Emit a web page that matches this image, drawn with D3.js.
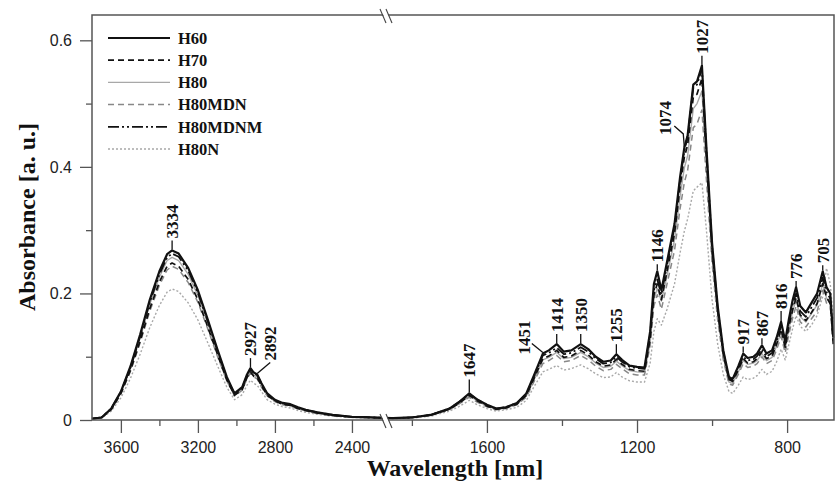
<!DOCTYPE html>
<html>
<head>
<meta charset="utf-8">
<script src="https://cdn.jsdelivr.net/npm/d3@7"></script>
<style>
  html, body { margin: 0; padding: 0; background: #fff; }
  svg { display: block; }
</style>
</head>
<body>
<svg id="chart" width="835" height="486"></svg>
<script>
// Wavenumber grid (cm-1 values labelled "nm" on the axis), high region then low region
const wavenumbers = [
  3750, 3700, 3650, 3600, 3550, 3500, 3450, 3400, 3360, 3334,
  3300, 3250, 3200, 3150, 3100, 3050, 3010, 2970, 2945, 2927,
  2910, 2892, 2870, 2840, 2800, 2760, 2720, 2680, 2640, 2580,
  2500, 2400, 2300, 2195,
  1850, 1800, 1750, 1700, 1675, 1647, 1625, 1600, 1575, 1550,
  1520, 1495, 1475, 1451, 1435, 1414, 1395, 1375, 1350, 1330,
  1310, 1290, 1270, 1255, 1240, 1220, 1200, 1180, 1165, 1155,
  1146, 1135, 1120, 1100, 1085, 1074, 1065, 1050, 1040, 1027,
  1015, 1000, 985, 970, 955, 945, 930, 917, 905, 890,
  880, 867, 855, 840, 828, 816, 805, 795, 785, 776,
  765, 750, 735, 720, 705, 695, 685, 677
];

const seriesNames = ["H60", "H70", "H80", "H80MDN", "H80MDNM", "H80N"];

const h60 = [
  0.002, 0.004, 0.018, 0.045, 0.085, 0.135, 0.190, 0.235, 0.262, 0.268,
  0.263, 0.240, 0.205, 0.160, 0.113, 0.068, 0.042, 0.052, 0.072, 0.082,
  0.075, 0.072, 0.058, 0.042, 0.032, 0.027, 0.025, 0.020, 0.016, 0.012,
  0.008, 0.005, 0.004, 0.003,
  0.003, 0.004, 0.008, 0.018, 0.028, 0.042, 0.032, 0.024, 0.018, 0.020,
  0.027, 0.042, 0.070, 0.105, 0.110, 0.120, 0.108, 0.110, 0.120, 0.112,
  0.100, 0.092, 0.094, 0.104, 0.095, 0.086, 0.084, 0.083, 0.140, 0.215,
  0.235, 0.205, 0.250, 0.310, 0.385, 0.430, 0.450, 0.530, 0.535, 0.560,
  0.430, 0.280, 0.180, 0.110, 0.068, 0.065, 0.085, 0.105, 0.098, 0.100,
  0.105, 0.118, 0.105, 0.110, 0.130, 0.155, 0.125, 0.160, 0.190, 0.210,
  0.180, 0.170, 0.185, 0.200, 0.235, 0.210, 0.200, 0.130
];

const h70 = [
  0.002, 0.004, 0.017, 0.042, 0.079, 0.125, 0.176, 0.218, 0.243, 0.248,
  0.243, 0.222, 0.190, 0.148, 0.105, 0.063, 0.039, 0.048, 0.067, 0.076,
  0.069, 0.067, 0.054, 0.039, 0.030, 0.025, 0.023, 0.018, 0.015, 0.011,
  0.007, 0.005, 0.004, 0.003,
  0.003, 0.004, 0.008, 0.017, 0.026, 0.039, 0.030, 0.022, 0.017, 0.019,
  0.025, 0.039, 0.065, 0.097, 0.101, 0.110, 0.099, 0.101, 0.110, 0.103,
  0.092, 0.085, 0.087, 0.096, 0.088, 0.080, 0.078, 0.077, 0.128, 0.198,
  0.215, 0.190, 0.235, 0.295, 0.370, 0.415, 0.435, 0.510, 0.515, 0.540,
  0.415, 0.268, 0.172, 0.104, 0.064, 0.061, 0.079, 0.097, 0.090, 0.092,
  0.097, 0.108, 0.097, 0.101, 0.120, 0.143, 0.115, 0.148, 0.175, 0.193,
  0.166, 0.157, 0.170, 0.184, 0.216, 0.194, 0.184, 0.120
];

const h80 = [
  0.002, 0.004, 0.017, 0.043, 0.082, 0.130, 0.183, 0.226, 0.252, 0.257,
  0.252, 0.230, 0.197, 0.154, 0.108, 0.065, 0.040, 0.049, 0.068, 0.077,
  0.071, 0.068, 0.055, 0.040, 0.030, 0.025, 0.023, 0.019, 0.015, 0.011,
  0.008, 0.005, 0.004, 0.003,
  0.003, 0.004, 0.008, 0.017, 0.026, 0.038, 0.030, 0.022, 0.017, 0.019,
  0.025, 0.038, 0.063, 0.095, 0.099, 0.107, 0.097, 0.099, 0.107, 0.100,
  0.090, 0.083, 0.085, 0.093, 0.086, 0.078, 0.076, 0.075, 0.122, 0.190,
  0.208, 0.188, 0.228, 0.285, 0.355, 0.398, 0.418, 0.492, 0.500, 0.520,
  0.405, 0.262, 0.168, 0.100, 0.060, 0.058, 0.076, 0.094, 0.088, 0.090,
  0.094, 0.105, 0.094, 0.099, 0.117, 0.140, 0.112, 0.145, 0.172, 0.190,
  0.163, 0.155, 0.168, 0.182, 0.215, 0.193, 0.183, 0.140
];

const h80mdn = [
  0.002, 0.004, 0.016, 0.041, 0.077, 0.122, 0.172, 0.213, 0.237, 0.243,
  0.238, 0.217, 0.186, 0.145, 0.102, 0.062, 0.038, 0.047, 0.065, 0.074,
  0.068, 0.065, 0.052, 0.038, 0.029, 0.024, 0.022, 0.018, 0.014, 0.011,
  0.007, 0.005, 0.004, 0.003,
  0.003, 0.004, 0.007, 0.016, 0.025, 0.036, 0.028, 0.021, 0.016, 0.018,
  0.024, 0.036, 0.060, 0.089, 0.094, 0.102, 0.092, 0.094, 0.102, 0.095,
  0.085, 0.078, 0.080, 0.088, 0.081, 0.073, 0.071, 0.071, 0.118, 0.180,
  0.198, 0.175, 0.215, 0.268, 0.335, 0.375, 0.395, 0.462, 0.468, 0.490,
  0.380, 0.248, 0.158, 0.095, 0.057, 0.055, 0.072, 0.089, 0.083, 0.085,
  0.089, 0.100, 0.089, 0.094, 0.111, 0.132, 0.106, 0.136, 0.162, 0.180,
  0.155, 0.147, 0.160, 0.172, 0.205, 0.185, 0.178, 0.150
];

const h80mdnm = [
  0.002, 0.004, 0.018, 0.044, 0.083, 0.132, 0.186, 0.230, 0.257, 0.263,
  0.258, 0.236, 0.201, 0.157, 0.111, 0.066, 0.041, 0.051, 0.070, 0.080,
  0.074, 0.071, 0.057, 0.041, 0.031, 0.026, 0.024, 0.019, 0.016, 0.012,
  0.008, 0.005, 0.004, 0.003,
  0.003, 0.004, 0.008, 0.018, 0.028, 0.041, 0.032, 0.024, 0.018, 0.020,
  0.027, 0.041, 0.068, 0.102, 0.106, 0.114, 0.104, 0.106, 0.115, 0.108,
  0.097, 0.089, 0.091, 0.100, 0.092, 0.084, 0.082, 0.081, 0.135, 0.205,
  0.222, 0.198, 0.245, 0.305, 0.380, 0.425, 0.448, 0.525, 0.530, 0.555,
  0.425, 0.275, 0.176, 0.108, 0.066, 0.063, 0.083, 0.100, 0.094, 0.096,
  0.101, 0.112, 0.100, 0.106, 0.125, 0.148, 0.120, 0.155, 0.183, 0.200,
  0.172, 0.163, 0.178, 0.193, 0.225, 0.202, 0.192, 0.125
];

const h80n = [
  0.002, 0.003, 0.014, 0.035, 0.066, 0.104, 0.146, 0.181, 0.202, 0.207,
  0.203, 0.185, 0.158, 0.123, 0.087, 0.052, 0.032, 0.040, 0.055, 0.063,
  0.058, 0.055, 0.045, 0.032, 0.025, 0.021, 0.019, 0.015, 0.012, 0.009,
  0.006, 0.004, 0.003, 0.002,
  0.002, 0.003, 0.006, 0.014, 0.021, 0.031, 0.024, 0.018, 0.014, 0.016,
  0.020, 0.031, 0.052, 0.076, 0.080, 0.086, 0.079, 0.081, 0.087, 0.081,
  0.073, 0.067, 0.068, 0.075, 0.068, 0.062, 0.060, 0.060, 0.090, 0.140,
  0.160, 0.150, 0.175, 0.215, 0.265, 0.298, 0.318, 0.362, 0.368, 0.375,
  0.300, 0.190, 0.120, 0.072, 0.045, 0.042, 0.055, 0.068, 0.064, 0.066,
  0.070, 0.080, 0.072, 0.077, 0.092, 0.112, 0.095, 0.120, 0.145, 0.165,
  0.148, 0.140, 0.150, 0.165, 0.195, 0.240, 0.215, 0.160
];

// Band positions marked above the spectra
const peakLabels = [3334, 2927, 2892, 1647, 1451, 1414, 1350, 1255, 1146, 1074, 1027, 917, 867, 816, 776, 705];

// Axis ticks
const xMajorHigh = [3600, 3200, 2800, 2400];
const xMinorHigh = [3400, 3000, 2600];
const xMajorLow = [1600, 1200, 800];
const xMinorLow = [1800, 1400, 1000];
const yMajor = [0, 0.2, 0.4, 0.6];
const yMinor = [0.1, 0.3, 0.5];

// ---- layout ----
const svg = d3.select("#chart");
const margin = { left: 92, top: 15, right: 1, bottom: 66 };
const W = 835 - margin.left - margin.right;
const H = 486 - margin.top - margin.bottom;
const g = svg.append("g").attr("transform", `translate(${margin.left},${margin.top})`);

const breakHigh = 2192, breakLow = 1853, breakX = 300;
const xHigh = d3.scaleLinear().domain([3750, breakHigh]).range([0, breakX]);
const xLow = d3.scaleLinear().domain([breakLow, 675]).range([breakX, W]);
const x = d3.scaleLinear().domain([3750, breakHigh, breakLow, 675]).range([0, breakX, breakX, W]);
const y = d3.scaleLinear().domain([0, 0.64]).range([H, 0]);

const styles = {
  H60:     { stroke: "#111", width: 2.2, dash: null },
  H70:     { stroke: "#111", width: 1.7, dash: "6,4" },
  H80:     { stroke: "#a8a8a8", width: 1.4, dash: null },
  H80MDN:  { stroke: "#888", width: 1.5, dash: "6,4" },
  H80MDNM: { stroke: "#111", width: 1.8, dash: "11,3,2,3,2,3" },
  H80N:    { stroke: "#a8a8a8", width: 1.4, dash: "2,2" }
};
const valuesByName = { H60: h60, H70: h70, H80: h80, H80MDN: h80mdn, H80MDNM: h80mdnm, H80N: h80n };

// ---- spectra (light lines first so the dark ones sit on top) ----
const drawOrder = ["H80N", "H80", "H80MDN", "H70", "H80MDNM", "H60"];
const line = d3.line().x(d => x(d[0])).y(d => y(d[1]));
const plot = g.append("g");
drawOrder.forEach(name => {
  const st = styles[name];
  plot.append("path")
    .datum(wavenumbers.map((w, i) => [w, valuesByName[name][i]]))
    .attr("fill", "none")
    .attr("stroke", st.stroke)
    .attr("stroke-width", st.width)
    .attr("stroke-dasharray", st.dash)
    .attr("stroke-linejoin", "round")
    .attr("d", line);
});

// ---- frame and axes ----
const frameColor = "#555";
g.append("rect").attr("x", 0).attr("y", 0).attr("width", W).attr("height", H)
  .attr("fill", "none").attr("stroke", frameColor).attr("stroke-width", 1.5);

function styleAxis(sel) {
  sel.select(".domain").remove();
  sel.selectAll(".tick line").attr("stroke", frameColor).attr("stroke-width", 1.3);
  sel.selectAll(".tick text")
    .attr("fill", "#222")
    .style("font-family", "'Liberation Sans', Arial, sans-serif")
    .style("font-size", "16px");
}

[[xHigh, xMajorHigh, xMinorHigh], [xLow, xMajorLow, xMinorLow]].forEach(([sc, major, minor]) => {
  g.append("g").attr("transform", `translate(0,${H})`)
    .call(d3.axisBottom(sc).tickValues(major).tickSize(13).tickPadding(9).tickFormat(d3.format("d")))
    .call(styleAxis);
  g.append("g").attr("transform", `translate(0,${H})`)
    .call(d3.axisBottom(sc).tickValues(minor).tickSize(6).tickFormat(""))
    .call(styleAxis);
});

g.append("g")
  .call(d3.axisLeft(y).tickValues(yMajor).tickSize(12).tickPadding(8)
    .tickFormat(d => d === 0 ? "0" : d3.format(".1f")(d)))
  .call(styleAxis);
g.append("g")
  .call(d3.axisLeft(y).tickValues(yMinor).tickSize(6).tickFormat(""))
  .call(styleAxis);

// ---- axis break marks ----
[0, H].forEach(yy => {
  const bx = breakX - 3;
  g.append("polygon")
    .attr("points", `${bx - 8},${yy - 5} ${bx - 3},${yy - 5} ${bx + 3},${yy + 8} ${bx - 2},${yy + 8}`)
    .attr("fill", "#fff");
  [[bx - 9, bx - 3], [bx - 3, bx + 3]].forEach(([x0, x1]) => {
    g.append("line")
      .attr("x1", x0).attr("y1", yy - 6).attr("x2", x1).attr("y2", yy + 8)
      .attr("stroke", "#444").attr("stroke-width", 1.1);
  });
});

// ---- axis titles ----
const serif = "'Liberation Serif', 'Times New Roman', serif";
svg.append("text")
  .attr("x", 455).attr("y", 476)
  .attr("text-anchor", "middle")
  .style("font-family", serif).style("font-weight", "bold").style("font-size", "24px")
  .attr("fill", "#111")
  .text("Wavelength [nm]");

svg.append("text")
  .attr("transform", "translate(35,217) rotate(-90)")
  .attr("text-anchor", "middle")
  .style("font-family", serif).style("font-weight", "bold").style("font-size", "24px")
  .attr("fill", "#111")
  .text("Absorbance [a. u.]");

// ---- band annotations ----
// leader geometry relative to the band top on the H60 trace
const leaderStyle = {
  3334: { lead: 10 }, 2927: { lead: 10 },
  2892: { dx: 13, lead: 12 },
  1647: { lead: 14 },
  1451: { dx: -19, textDy: 1, path: [[0, -1], [-11, -10]] },
  1414: { lead: 10 }, 1350: { lead: 10 }, 1255: { lead: 10 }, 1146: { lead: 7 },
  1074: { dx: -19, textDy: -13, path: [[0, -1], [-1, -14], [-10, -22]] },
  1027: { lead: 10 }, 917: { lead: 7 }, 867: { lead: 7 }, 816: { lead: 11 },
  776: { lead: 6 }, 705: { lead: 6 }
};
const ann = g.append("g");
peakLabels.forEach(wl => {
  const i = wavenumbers.indexOf(wl);
  const px = x(wl), py = y(h60[i]);
  const s = leaderStyle[wl] || { lead: 10 };
  const dx = s.dx || 0;
  let pts, textBottom;
  if (s.path) {
    pts = s.path.map(([a, b]) => [px + a, py + b]);
    textBottom = py + s.textDy;
  } else {
    pts = [[px, py - 1], [px + dx, py - s.lead]];
    textBottom = py - s.lead - 2;
  }
  ann.append("path")
    .attr("d", d3.line()(pts))
    .attr("fill", "none").attr("stroke", "#111").attr("stroke-width", 1.3);
  ann.append("text")
    .attr("transform", `translate(${px + dx},${textBottom}) rotate(-90)`)
    .attr("dy", "0.35em")
    .attr("text-anchor", "start")
    .style("font-family", serif).style("font-weight", "bold").style("font-size", "17px")
    .attr("fill", "#111")
    .text(wl);
});

// ---- legend ----
const legend = svg.append("g").attr("transform", "translate(108,38)");
seriesNames.forEach((name, k) => {
  const st = styles[name];
  const row = legend.append("g").attr("transform", `translate(0,${k * 22.2})`);
  row.append("line")
    .attr("x1", 0).attr("x2", 62).attr("y1", 0).attr("y2", 0)
    .attr("stroke", st.stroke).attr("stroke-width", st.width)
    .attr("stroke-dasharray", st.dash);
  row.append("text")
    .attr("x", 70).attr("dy", "0.35em")
    .style("font-family", serif).style("font-weight", "bold").style("font-size", "16.5px")
    .attr("fill", "#111")
    .text(name);
});
</script>
</body>
</html>
